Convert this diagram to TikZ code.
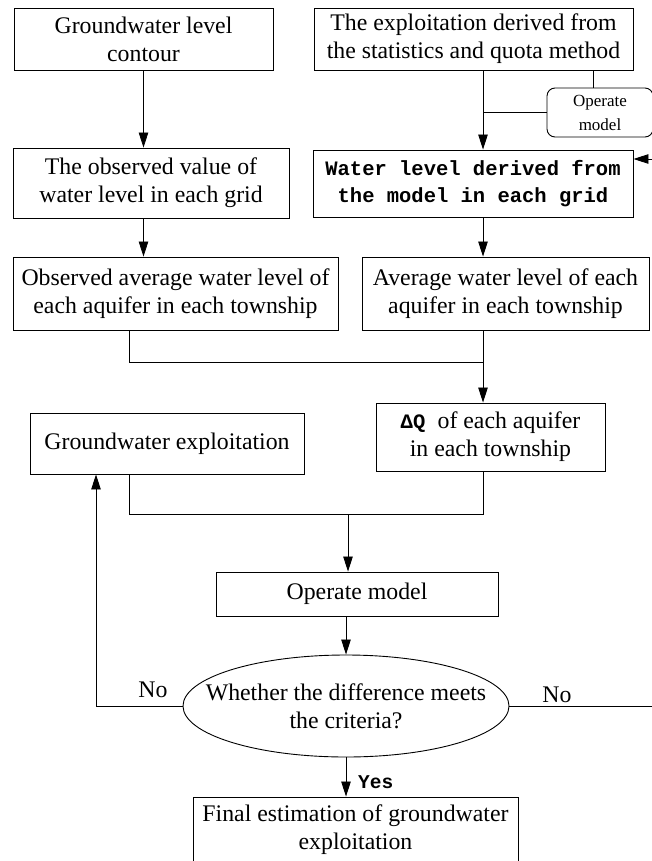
\documentclass[tikz,border=0pt]{standalone}
\usepackage{fontspec}
\setmainfont{Liberation Serif}
\newfontfamily\monof{Liberation Mono}
\usetikzlibrary{arrows.meta,shapes.geometric}
\begin{document}
\begin{tikzpicture}[x=1pt,y=-1pt,
  box/.style={draw, line width=0.9pt, align=center, inner sep=0pt, font=\fontsize{23.8}{28}\selectfont},
  monobox/.style={box, font=\monof\bfseries\fontsize{20.5}{27}\selectfont},
  smallbox/.style={draw, line width=0.9pt, align=center, inner sep=0pt, rounded corners=8pt, font=\fontsize{17}{24}\selectfont},
  conn/.style={line width=0.8pt},
  arr/.style={conn, -{Triangle[length=15pt,width=9.5pt]}},
  lab/.style={inner sep=0pt, font=\fontsize{23.8}{28}\selectfont},
  monolab/.style={inner sep=0pt, font=\monof\bfseries\fontsize{19.5}{24}\selectfont}]
\useasboundingbox (0,0) rectangle (651,861);

% boxes
\node[box, minimum width=259pt, minimum height=62pt] (c1) at (143.5,39) {Groundwater level\\contour};
\node[box, minimum width=319pt, minimum height=62pt] (e1) at (473.5,39) {The exploitation derived from\\the statistics and quota method};
\node[smallbox, minimum width=106pt, minimum height=49pt] (om1) at (600,112.5) {Operate\\model};
\node[box, minimum width=276pt, minimum height=70pt] (ov) at (151,183) {The observed value of\\water level in each grid};
\node[monobox, minimum width=320pt, minimum height=67pt] (wl) at (473,183.5) {Water level derived from\\the model in each grid};
\node[box, minimum width=325pt, minimum height=73pt] (oa) at (175.5,293.5) {Observed average water level of\\each aquifer in each township};
\node[box, minimum width=287pt, minimum height=73pt] (aw) at (505.5,293.5) {Average water level of each\\aquifer in each township};
\node[box, minimum width=229pt, minimum height=68pt] (dq) at (490.5,437) {{\monof\bfseries\fontsize{20.5}{27}\selectfont ΔQ }of each aquifer\\in each township};
\node[box, minimum width=274pt, minimum height=61pt] (ge) at (167,443.5) {Groundwater exploitation};
\node[box, minimum width=282pt, minimum height=44pt] (om2) at (357,594) {Operate model};
\node[draw, line width=0.9pt, ellipse, inner sep=0pt, minimum width=326pt, minimum height=102pt] (el) at (346,706) {};
\node[lab, align=center] (elt) at (el.center) {Whether the difference meets\\the criteria?};
\node[box, minimum width=325pt, minimum height=66pt] (fe) at (355.5,830) {Final estimation of groundwater\\exploitation};

% helper coordinates
\coordinate (rc) at (483,0);
\coordinate (oc) at (593,0);
\coordinate (lc) at (129,0);
\coordinate (m1) at (0,362);
\coordinate (m2) at (0,514);
\coordinate (mc) at (348,0);
\coordinate (fl) at (96,0);
\coordinate (fr) at (652,0);
\coordinate (fy) at (0,159);

% connectors, left column
\draw[arr] (c1.south) -- (c1.south |- ov.north);
\draw[arr] (c1.south |- ov.south) -- (c1.south |- oa.north);
% right column
\draw[arr] (rc |- e1.south) -- (rc |- wl.north);
\draw[conn] (oc |- e1.south) -- (oc |- om1.north);
\draw[conn] (om1.west) -- (rc |- om1.west);
\draw[arr] (rc |- wl.south) -- (rc |- aw.north);
% merge to dQ
\draw[conn] (lc |- oa.south) -- (lc |- m1) -- (rc |- m1);
\draw[arr] (rc |- aw.south) -- (rc |- dq.north);
% merge to operate model
\draw[conn] (lc |- ge.south) -- (lc |- m2) -- (rc |- m2) -- (rc |- dq.south);
\draw[arr] (mc |- m2) -- (mc |- om2.north);
\draw[arr] (el.north |- om2.south) -- (el.north);
% feedback loops
\draw[arr] (el.west) -- (fl |- el.west) -- (fl |- ge.south);
\draw[arr] (el.east) -- (fr |- el.east) -- (fr |- fy) -- (wl.east |- fy);
% yes
\draw[arr] (el.south) -- (el.south |- fe.north);

% labels
\node[lab] (no1) at (153,690) {No};
\node[lab] (no2) at (557,695) {No};
\node[monolab, anchor=west] (yes) at (358,782) {Yes};
\end{tikzpicture}
\end{document}
